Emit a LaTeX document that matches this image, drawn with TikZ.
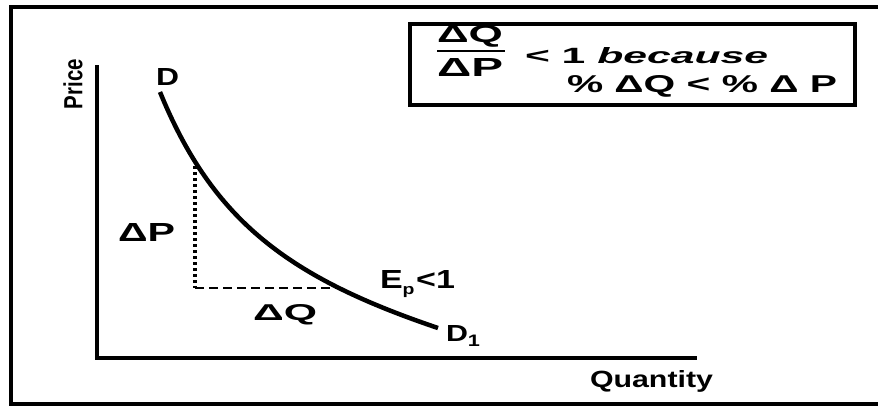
\documentclass[tikz,border=0pt]{standalone}
\usepackage{fontspec}
\setmainfont{Liberation Sans}
\usepackage{graphicx}
\newcommand\fitbox[3]{\resizebox{#1pt}{#2pt}{\bfseries #3}}
\begin{document}
\begin{tikzpicture}[x=1pt,y=-1pt,
  lbl/.style={inner sep=0pt, outer sep=0pt, font=\fontsize{21}{21}\selectfont},
  heavy/.style={line width=4.5pt},
  framed/.style={line width=3.5pt},
  dotline/.style={line width=4pt, dash pattern=on 3pt off 3pt},
  dashline/.style={line width=2.5pt, dash pattern=on 9pt off 5pt}]
\useasboundingbox (0,0) rectangle (878,410);
% outer frame
\coordinate (ftr) at (878,7);
\coordinate (ftl) at (11,7);
\coordinate (fbl) at (11,404);
\coordinate (fbr) at (878,404);
\draw[framed] (ftr) -- (ftl) -- (fbl) -- (fbr);
% axes
\coordinate (ytop) at (97,65);
\coordinate (orig) at (97,358);
\coordinate (xend) at (697,358);
\draw[heavy] (ytop) -- (orig) -- (xend);
% demand curve
\coordinate (c0) at (160,92);
\coordinate (k1) at (213,222);
\coordinate (k2) at (290,278);
\coordinate (c5) at (438,328);
\draw[heavy] (c0) .. controls (k1) and (k2) .. (c5);
% dotted and dashed guides
\coordinate (c1) at (195,160);
\coordinate (corner) at (195,288);
\coordinate (c4) at (338,288);
\draw[dotline] (c1) -- (corner);
\draw[dashline] (corner) -- (c4);
% labels
\node[lbl, rotate=90] (price) at (73,84) {\fitbox{50}{19}{Price}};
\node[lbl, anchor=base west] (qty) at (590,387) {\fitbox{123}{17}{Quantity}};
\node[lbl, anchor=base west] (dlab) at (156,85) {\fitbox{23}{17}{D}};
\node[lbl, anchor=base west] (dp) at (118,241) {\fitbox{57}{18}{ΔP}};
\node[lbl, anchor=base west] (dq) at (253,320) {\fitbox{64}{16}{ΔQ}};
\node[lbl, anchor=base west] (ep) at (380,288) {\fitbox{75}{18}{E\raisebox{-5pt}{\fontsize{12}{12}\selectfont p}\kern1pt<1}};
\node[lbl, anchor=base west] (d1) at (446,341) {\fitbox{34}{16}{D\raisebox{-5pt}{\fontsize{15}{15}\selectfont 1}}};
% box
\node[draw, framed, inner sep=0pt, minimum width=445pt, minimum height=81pt, anchor=north west] (box) at (408,22) {};
\node[lbl, anchor=base west] (num) at (437,42) {\fitbox{66}{17}{ΔQ}};
\coordinate (barl) at (437,51);
\coordinate (barr) at (505,51);
\draw[line width=2.5pt] (barl) -- (barr);
\node[lbl, anchor=base west] (den) at (437,76) {\fitbox{66}{18}{ΔP}};
\node[lbl, anchor=base west] (lt1) at (525,63) {\fitbox{243}{16}{< 1 \itshape because}};
\node[lbl, anchor=base west] (pct) at (567,92) {\fitbox{270}{17}{\% ΔQ < \% Δ P}};
\end{tikzpicture}
\end{document}
